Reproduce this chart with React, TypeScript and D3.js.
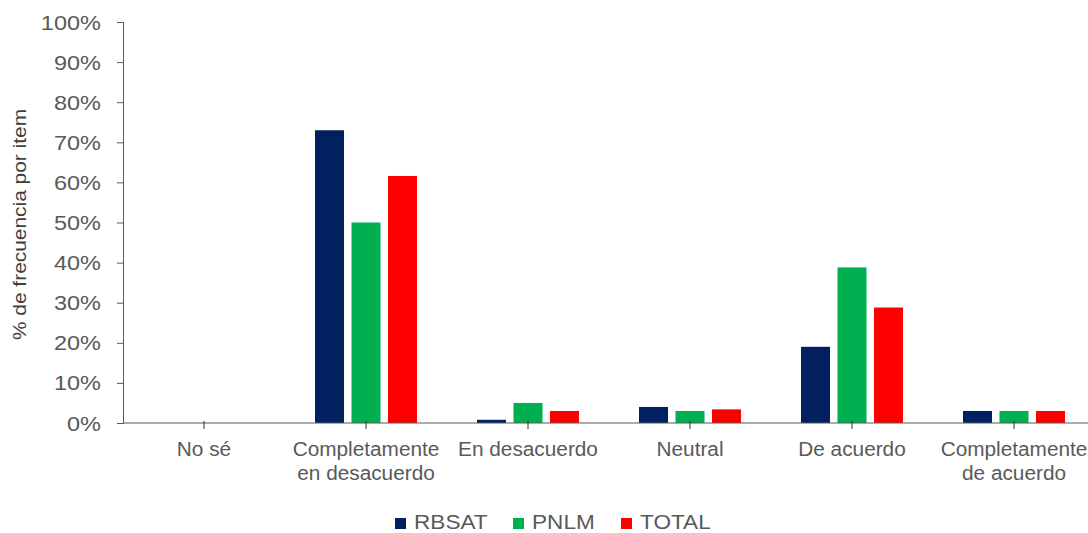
import React, { useEffect, useRef } from 'react'
import * as d3 from 'd3'

// categories and series (percent of responses per item)
const categories = ['No sé', 'Completamente en desacuerdo', 'En desacuerdo', 'Neutral', 'De acuerdo', 'Completamente de acuerdo']
const categoryLines = [['No sé'], ['Completamente', 'en desacuerdo'], ['En desacuerdo'], ['Neutral'], ['De acuerdo'], ['Completamente', 'de acuerdo']]
const seriesNames = ['RBSAT', 'PNLM', 'TOTAL']
const rbsat = [0, 73, 0.8, 4, 19, 3]
const pnlm = [0, 50, 5, 3, 38.8, 3]
const total = [0, 61.6, 3, 3.4, 28.8, 3]
const yTicks = [0, 10, 20, 30, 40, 50, 60, 70, 80, 90, 100]
const colors = ['#002060', '#00b050', '#ff0000']

const W = 1088
const H = 533

export default function App() {
    const ref = useRef<SVGSVGElement>(null)

    useEffect(() => {
        const svg = d3.select(ref.current)
        svg.selectAll('*').remove()

        const margin = { top: 22, left: 123 }
        const x = d3.scaleBand().domain(categories).range([margin.left, margin.left + 6 * 162])
        const y = d3.scaleLinear().domain([0, 100]).range([423, margin.top])
        const inner = d3.scaleBand().domain(seriesNames).range([0, 102]).paddingInner(0.205)
        const axisColor = '#595959'
        const font = 'Liberation Sans, Arial, sans-serif'
        const cx = (c: string) => x(c)! + x.bandwidth() / 2

        const values = [rbsat, pnlm, total]
        const data = categories.flatMap((c, i) => seriesNames.map((s, j) => ({ c, s, v: values[j][i], color: colors[j] })))

        svg.append('g')
            .selectAll('rect')
            .data(data)
            .enter()
            .append('rect')
            .attr('x', d => cx(d.c) - 51 + inner(d.s)!)
            .attr('y', d => y(d.v))
            .attr('width', inner.bandwidth())
            .attr('height', d => y(0) - y(d.v))
            .attr('fill', d => d.color)

        // y axis
        const yAxis = svg.append('g')
            .attr('transform', `translate(${margin.left},0)`)
            .call(d3.axisLeft(y).tickValues(yTicks).tickSize(6).tickFormat(() => ''))
        yAxis.select('.domain').attr('stroke', axisColor)
        yAxis.selectAll('line').attr('stroke', axisColor)

        svg.append('g')
            .selectAll('text')
            .data(yTicks)
            .enter()
            .append('text')
            .attr('transform', d => `translate(101,${y(d) + 7.5}) scale(1.12,1)`)
            .attr('text-anchor', 'end')
            .attr('font-family', font)
            .attr('font-size', 21)
            .attr('fill', axisColor)
            .text(d => d + '%')

        // x axis
        const xAxis = svg.append('g')
            .attr('transform', `translate(0,${y(0)})`)
            .call(d3.axisBottom(x).tickSize(6).tickSizeOuter(0).tickFormat(() => ''))
        xAxis.select('.domain').attr('stroke', axisColor).attr('d', `M${margin.left},0H${W}`)
        xAxis.selectAll('line').attr('stroke', '#333').attr('y1', -2)

        const labels = svg.append('g')
        categories.forEach((c, i) => {
            const t = labels.append('text')
                .attr('transform', `translate(${cx(c)},456) scale(1.04,1)`)
                .attr('text-anchor', 'middle')
                .attr('font-family', font)
                .attr('font-size', 20)
                .attr('fill', axisColor)
            categoryLines[i].forEach((l, k) => {
                t.append('tspan')
                    .attr('x', 0)
                    .attr('dy', k === 0 ? 0 : 24.5)
                    .text(l)
            })
        })

        // y title
        svg.append('text')
            .attr('transform', `translate(26,${y(49.5)}) rotate(-90) scale(1.1,1)`)
            .attr('text-anchor', 'middle')
            .attr('font-family', font)
            .attr('font-size', 19)
            .attr('fill', '#404040')
            .text('% de frecuencia por item')

        // legend
        const legendX = [395, 513, 621]
        const legend = svg.append('g')
        seriesNames.forEach((s, i) => {
            legend.append('rect')
                .attr('x', legendX[i])
                .attr('y', 518)
                .attr('width', 11)
                .attr('height', 11)
                .attr('fill', colors[i])
            legend.append('text')
                .attr('transform', `translate(${legendX[i] + 19},529) scale(1.13,1)`)
                .attr('font-family', font)
                .attr('font-size', 20)
                .attr('fill', axisColor)
                .text(s)
        })
    }, [])

    return (
        <svg ref={ref} width={W} height={H} style={{ position: 'absolute', left: 0, top: 0, background: '#fff' }} />
    )
}
